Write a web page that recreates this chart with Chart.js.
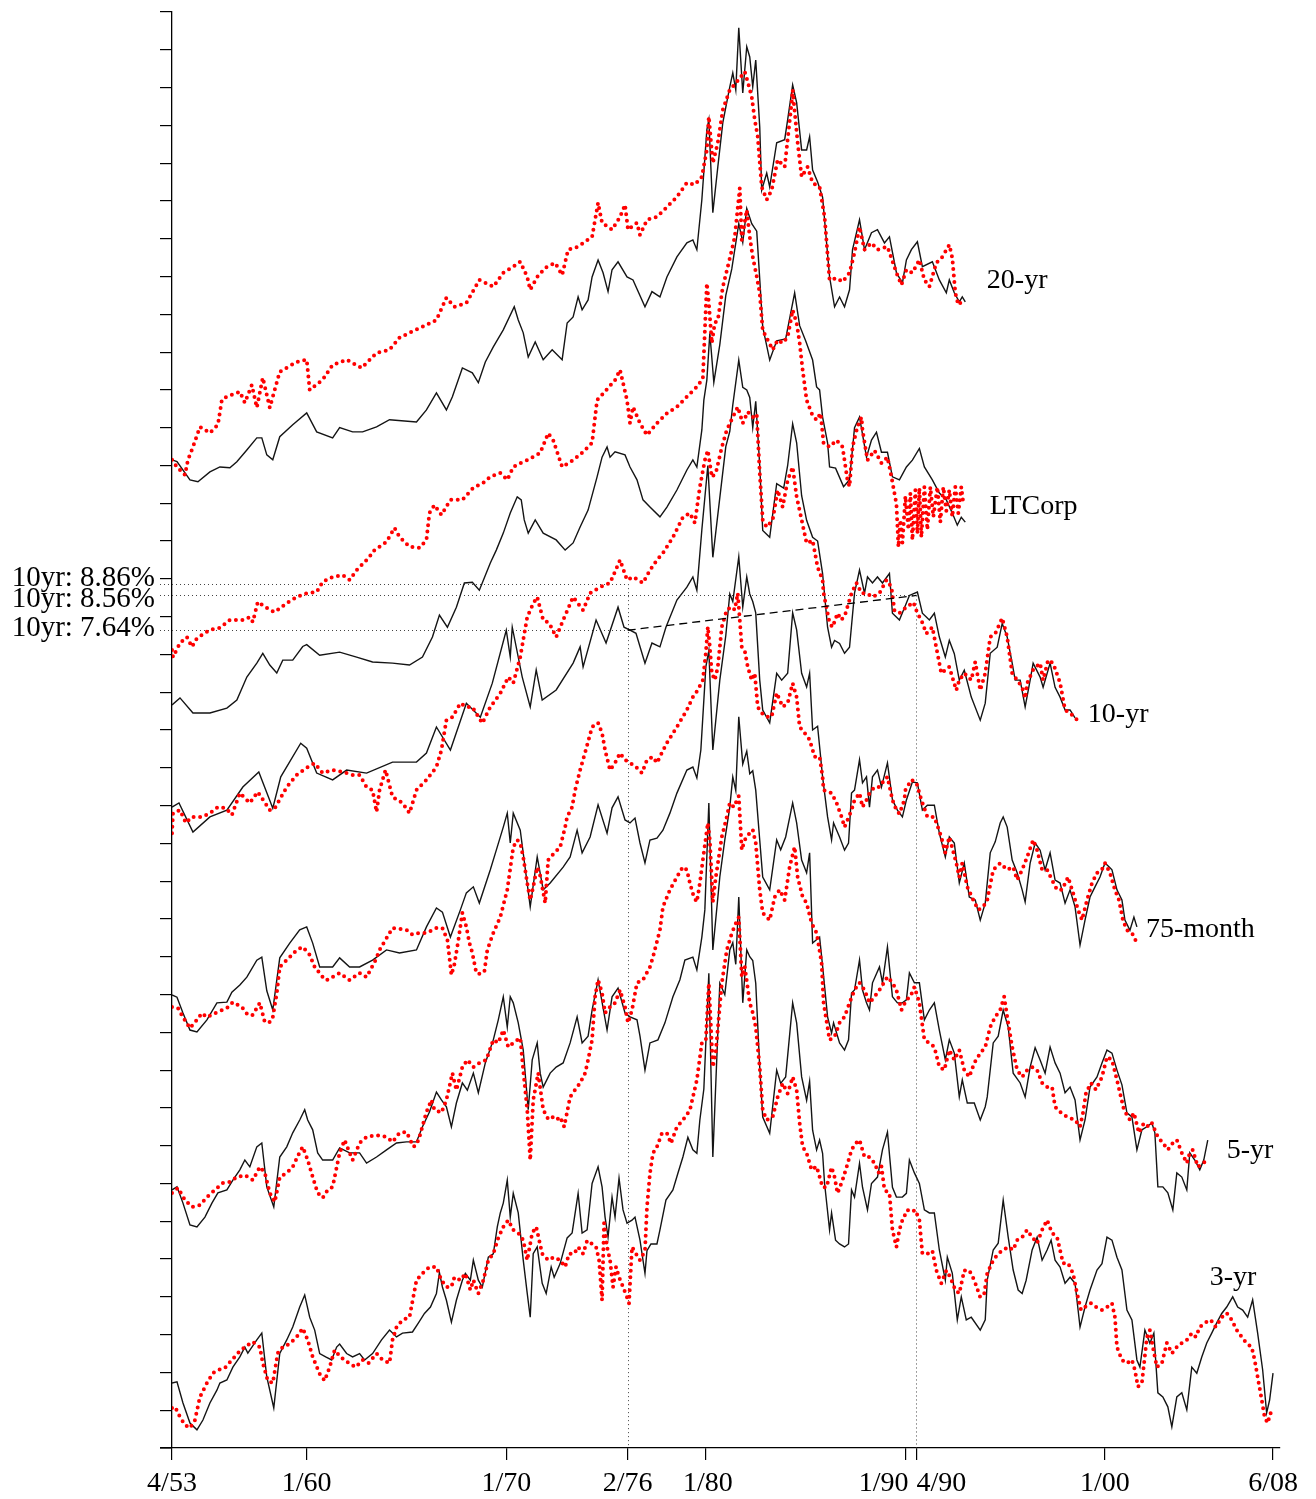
<!DOCTYPE html>
<html><head><meta charset="utf-8">
<script src="https://cdn.jsdelivr.net/npm/chart.js@4.4.1/dist/chart.umd.min.js"></script>
<style>html,body{margin:0;padding:0;background:#fff}#wrap{width:1316px;height:1499px}</style>
</head><body><div id="wrap"><canvas id="c" width="1316" height="1499"></canvas></div>
<script>
// ---- data: [date (decimal year), yield %] ----
const yr20Actual = [[1953.25,3.15],[1953.5,3.10],[1954.15,2.62],[1954.55,2.57],[1955.15,2.83],[1955.65,2.96],[1956.15,2.94],[1956.5,3.10],[1957.0,3.41],[1957.5,3.73],[1957.75,3.73],[1958.0,3.28],[1958.3,3.15],[1958.65,3.76],[1959.3,4.08],[1960.0,4.39],[1960.5,3.89],[1961.3,3.73],[1961.65,4.0],[1962.3,3.89],[1962.8,3.89],[1963.5,4.02],[1964.15,4.21],[1965.5,4.15],[1966.0,4.47],[1966.5,4.92],[1967.0,4.47],[1967.3,4.82],[1967.8,5.58],[1968.3,5.45],[1968.6,5.19],[1968.95,5.74],[1969.35,6.14],[1969.85,6.59],[1970.4,7.2],[1970.6,6.85],[1970.85,6.51],[1971.1,5.87],[1971.45,6.27],[1971.85,5.8],[1972.3,6.06],[1972.8,5.8],[1973.05,6.77],[1973.35,6.93],[1973.6,7.46],[1973.8,7.12],[1974.1,7.38],[1974.3,7.99],[1974.6,8.44],[1974.85,8.1],[1975.1,7.6],[1975.3,8.18],[1975.6,8.39],[1976.05,7.99],[1976.35,7.91],[1976.95,7.2],[1977.3,7.6],[1977.7,7.46],[1978.05,7.99],[1978.55,8.52],[1979.05,8.89],[1979.35,8.97],[1979.55,8.71],[1979.8,10.03],[1980.05,11.88],[1980.15,12.15],[1980.35,9.69],[1980.6,10.9],[1980.85,12.07],[1981.2,13.02],[1981.35,13.39],[1981.5,12.94],[1981.65,14.58],[1981.85,12.86],[1982.05,14.08],[1982.2,13.81],[1982.35,13.02],[1982.5,13.73],[1982.7,11.96],[1982.8,10.29],[1983.05,10.74],[1983.2,10.37],[1983.55,11.54],[1983.95,11.62],[1984.1,12.15],[1984.35,13.07],[1984.55,12.6],[1984.8,11.35],[1985.05,11.35],[1985.2,11.7],[1985.35,10.82],[1985.6,10.5],[1985.85,10.1],[1986.2,7.99],[1986.45,7.2],[1986.7,7.46],[1986.95,7.2],[1987.2,7.65],[1987.35,8.71],[1987.7,9.5],[1987.95,8.71],[1988.3,9.16],[1988.6,9.24],[1988.95,8.89],[1989.2,9.05],[1989.55,8.1],[1989.85,7.83],[1990.05,8.44],[1990.3,8.71],[1990.6,8.92],[1990.85,8.26],[1991.35,8.39],[1991.7,7.91],[1992.05,7.57],[1992.2,7.91],[1992.45,7.57],[1992.7,7.33],[1992.85,7.46],[1993.0,7.33]];
const yr20Model = [[1953.25,3.15],[1953.5,2.96],[1953.9,2.75],[1954.05,3.15],[1954.3,3.49],[1954.65,4.02],[1955.15,3.86],[1955.55,4.08],[1955.75,4.74],[1956.0,4.82],[1956.65,4.95],[1956.9,4.66],[1957.25,5.13],[1957.5,4.53],[1957.8,5.32],[1958.15,4.53],[1958.65,5.48],[1959.5,5.74],[1960.0,5.8],[1960.15,5.0],[1960.8,5.27],[1961.3,5.66],[1962.0,5.8],[1962.75,5.58],[1963.5,5.98],[1964.15,6.06],[1964.65,6.38],[1965.15,6.51],[1966.0,6.72],[1966.5,6.85],[1967.0,7.44],[1967.4,7.2],[1968.0,7.3],[1968.65,7.91],[1969.35,7.73],[1969.85,8.1],[1970.35,8.26],[1970.7,8.39],[1971.05,7.99],[1971.2,7.65],[1971.55,7.99],[1971.95,8.23],[1972.45,8.36],[1972.8,8.04],[1973.1,8.71],[1973.6,8.79],[1974.3,9.05],[1974.6,9.95],[1974.8,9.42],[1975.3,9.24],[1975.7,9.58],[1975.95,9.9],[1976.1,9.24],[1976.55,9.42],[1976.7,9.1],[1977.05,9.5],[1977.55,9.58],[1978.05,9.84],[1978.55,10.11],[1979.05,10.48],[1979.45,10.43],[1979.8,10.64],[1980.05,11.35],[1980.15,12.23],[1980.35,11.0],[1980.6,11.54],[1980.85,12.41],[1981.2,12.94],[1981.55,13.15],[1981.95,13.42],[1982.1,13.15],[1982.3,12.75],[1982.45,12.15],[1982.6,11.7],[1982.8,10.37],[1983.05,10.03],[1983.3,10.29],[1983.6,11.09],[1983.95,10.9],[1984.3,12.6],[1984.35,12.94],[1984.6,11.54],[1984.8,10.64],[1985.1,10.9],[1985.35,10.48],[1985.7,10.37],[1985.95,9.58],[1986.2,7.91],[1986.55,7.96],[1986.85,7.86],[1987.2,8.1],[1987.45,8.63],[1987.7,9.31],[1987.95,8.71],[1988.3,8.89],[1988.6,8.71],[1989.1,8.79],[1989.55,8.1],[1989.8,7.78],[1990.05,8.18],[1990.35,8.1],[1990.7,8.44],[1990.95,7.91],[1991.2,7.73],[1991.55,8.36],[1991.85,8.52],[1992.2,8.84],[1992.35,8.49],[1992.5,7.57],[1992.65,7.25],[1992.9,7.38]];
const corpActual = [[1953.25,3.66],[1953.65,3.85],[1954.3,3.45],[1955.15,3.45],[1956.0,3.58],[1956.5,3.79],[1957.0,4.4],[1957.5,4.77],[1957.8,5.03],[1958.15,4.72],[1958.5,4.51],[1958.8,4.85],[1959.3,4.85],[1959.8,5.21],[1960.0,5.26],[1960.65,4.98],[1961.65,5.06],[1962.5,4.93],[1963.3,4.8],[1964.3,4.77],[1965.15,4.72],[1965.8,4.93],[1966.3,5.46],[1966.65,6.04],[1967.05,5.72],[1967.5,6.25],[1967.9,6.89],[1968.3,6.91],[1968.65,6.7],[1969.2,7.42],[1969.5,7.76],[1969.85,8.21],[1970.2,8.74],[1970.55,9.17],[1970.75,9.09],[1970.9,8.56],[1971.1,8.21],[1971.45,8.56],[1971.85,8.21],[1972.5,8.03],[1972.95,7.76],[1973.35,7.95],[1973.7,8.37],[1974.1,8.82],[1974.55,9.7],[1974.8,10.22],[1975.05,10.49],[1975.2,10.22],[1975.45,10.36],[1975.95,10.28],[1976.2,9.96],[1976.55,9.62],[1976.85,9.09],[1977.2,8.9],[1977.7,8.64],[1978.05,8.9],[1978.55,9.35],[1979.05,9.88],[1979.35,10.15],[1979.55,9.96],[1979.8,10.94],[1979.9,11.73],[1980.05,12.26],[1980.2,13.5],[1980.4,12.2],[1980.7,13.2],[1981.0,14.5],[1981.3,15.2],[1981.65,16.4],[1981.85,15.9],[1982.05,16.8],[1982.3,16.4],[1982.55,16.2],[1982.85,13.67],[1983.2,12.79],[1983.55,13.3],[1984.0,13.35],[1984.45,14.57],[1984.7,13.7],[1985.0,13.3],[1985.35,12.79],[1985.55,12.08],[1985.7,12.0],[1985.85,11.28],[1986.1,10.6],[1986.2,9.96],[1986.5,9.93],[1986.9,9.44],[1987.2,9.62],[1987.45,11.0],[1987.7,11.28],[1988.05,10.22],[1988.3,10.67],[1988.55,10.88],[1988.8,10.35],[1989.1,10.35],[1989.35,9.7],[1989.7,9.62],[1990.05,9.96],[1990.35,10.14],[1990.7,10.45],[1990.95,9.96],[1991.35,9.62],[1991.7,9.27],[1992.05,9.09],[1992.35,8.74],[1992.6,8.42],[1992.8,8.63],[1993.0,8.5]];
const corpModel = [[1953.25,5.12],[1953.3,4.93],[1953.65,5.3],[1954.0,5.46],[1954.25,5.2],[1954.5,5.43],[1955.15,5.65],[1955.65,5.7],[1956.15,5.91],[1956.8,5.91],[1957.15,5.99],[1957.3,5.86],[1957.55,6.39],[1958.15,6.18],[1958.4,6.12],[1959.0,6.36],[1959.5,6.52],[1960.0,6.62],[1960.5,6.65],[1960.8,6.92],[1961.3,7.05],[1961.8,7.1],[1962.15,6.97],[1962.5,7.23],[1963.15,7.58],[1963.3,7.72],[1964.0,7.98],[1964.4,8.35],[1964.65,8.11],[1965.15,7.85],[1965.65,7.82],[1966.0,8.03],[1966.15,8.74],[1966.4,8.95],[1966.75,8.69],[1967.2,9.09],[1967.8,9.09],[1968.35,9.41],[1968.85,9.54],[1969.2,9.7],[1969.7,9.8],[1970.05,9.62],[1970.35,9.96],[1970.7,10.06],[1971.05,10.14],[1971.7,10.33],[1972.1,10.85],[1972.35,10.67],[1972.8,9.96],[1973.35,10.14],[1973.85,10.36],[1974.3,10.6],[1974.55,11.73],[1974.85,11.9],[1975.45,12.26],[1975.7,12.53],[1976.05,11.73],[1976.2,11.12],[1976.35,11.55],[1976.7,11.12],[1977.05,10.8],[1977.55,11.12],[1978.05,11.38],[1978.55,11.55],[1979.05,11.82],[1979.55,12.08],[1979.85,12.3],[1980.05,14.82],[1980.15,14.3],[1980.3,13.24],[1980.45,13.77],[1980.6,13.85],[1980.85,14.72],[1981.3,15.7],[1981.45,16.05],[1981.7,17.34],[1981.8,15.97],[1982.05,16.76],[1982.2,16.05],[1982.35,15.52],[1982.55,15.0],[1982.7,14.56],[1982.85,13.58],[1983.1,13.32],[1983.35,13.06],[1983.6,13.32],[1983.85,13.24],[1984.1,13.4],[1984.35,14.11],[1984.55,13.77],[1984.7,13.24],[1984.85,12.53],[1985.05,11.73],[1985.3,11.38],[1985.55,11.2],[1985.75,11.38],[1985.9,10.58],[1986.2,10.49],[1986.55,10.67],[1986.85,10.49],[1987.1,9.6],[1987.2,9.44],[1987.35,10.49],[1987.6,11.03],[1987.8,11.28],[1987.85,10.94],[1988.1,10.14],[1988.45,10.4],[1988.8,10.06],[1989.1,10.22],[1989.3,9.7],[1989.55,8.98],[1989.65,7.84],[1989.75,8.56],[1989.85,7.95],[1990.0,9.19],[1990.15,8.3],[1990.25,9.27],[1990.35,8.03],[1990.5,9.35],[1990.6,8.2],[1990.7,9.4],[1990.8,8.1],[1990.95,9.43],[1991.1,8.3],[1991.25,9.43],[1991.4,8.64],[1991.6,9.43],[1991.75,8.5],[1991.9,9.43],[1992.05,8.8],[1992.2,9.35],[1992.35,8.64],[1992.5,9.43],[1992.65,8.74],[1992.8,9.43],[1992.9,9.0]];
const yr10Actual = [[1953.25,2.96],[1953.6,3.07],[1954.3,2.30],[1955.15,2.70],[1956.0,2.88],[1956.8,3.49],[1957.6,3.89],[1958.3,2.93],[1958.7,3.76],[1959.7,4.65],[1960.0,4.52],[1960.5,3.86],[1961.3,3.68],[1962.0,3.94],[1963.0,3.86],[1964.3,4.15],[1965.5,4.15],[1966.0,4.39],[1966.5,5.08],[1967.2,4.47],[1968.0,5.71],[1968.7,5.34],[1969.3,6.24],[1970.0,7.64],[1970.2,6.93],[1970.3,7.72],[1970.8,6.40],[1971.2,5.61],[1971.5,6.59],[1971.8,5.79],[1972.5,6.06],[1973.35,6.77],[1973.7,7.2],[1973.85,6.67],[1974.5,7.91],[1975.0,7.3],[1975.6,8.25],[1975.9,7.72],[1976.2,7.64],[1976.5,7.56],[1976.95,6.77],[1977.3,7.3],[1977.7,7.2],[1978.0,7.72],[1978.55,8.44],[1979.05,8.78],[1979.35,9.05],[1979.55,8.7],[1979.8,10.3],[1980.1,12.0],[1980.35,9.57],[1980.7,11.15],[1981.0,12.5],[1981.2,12.9],[1981.35,13.6],[1981.65,14.79],[1981.85,14.07],[1982.05,14.0],[1982.2,13.8],[1982.35,13.0],[1982.5,13.7],[1982.7,12.0],[1982.85,10.28],[1983.2,10.1],[1983.55,11.52],[1983.9,11.4],[1984.1,12.0],[1984.35,13.1],[1984.55,12.6],[1984.8,11.2],[1985.05,10.55],[1985.35,10.1],[1985.6,10.0],[1985.85,9.14],[1986.1,7.72],[1986.3,7.19],[1986.45,7.37],[1986.7,7.29],[1986.95,7.03],[1987.2,7.19],[1987.45,8.62],[1987.7,9.23],[1987.95,8.62],[1988.1,9.05],[1988.35,8.89],[1988.6,9.05],[1988.85,8.89],[1989.2,9.14],[1989.35,8.09],[1989.7,7.91],[1990.05,8.36],[1990.2,8.56],[1990.6,8.65],[1990.85,8.09],[1991.2,7.91],[1991.45,8.09],[1991.7,7.46],[1992.0,6.93],[1992.2,7.37],[1992.45,7.02],[1992.7,6.32],[1992.95,6.58],[1993.3,5.87],[1993.75,5.26],[1994.0,5.71],[1994.25,7.03],[1994.6,7.19],[1994.85,7.82],[1995.1,7.46],[1995.35,6.77],[1995.5,6.32],[1995.75,6.32],[1996.0,5.61],[1996.25,6.32],[1996.4,6.77],[1996.75,6.4],[1996.9,6.13],[1997.25,6.77],[1997.5,6.13],[1997.75,5.87],[1998.0,5.53],[1998.25,5.53],[1998.5,5.32]];
const yr10Model = [[1953.25,2.27],[1953.3,2.8],[1953.65,2.88],[1953.95,2.54],[1954.25,2.7],[1954.75,2.7],[1955.15,2.8],[1955.55,2.96],[1955.95,2.93],[1956.25,2.75],[1956.65,3.33],[1957.15,3.07],[1957.55,3.36],[1958.15,2.88],[1958.4,2.93],[1959.0,3.49],[1959.5,3.81],[1960.0,4.0],[1960.4,4.12],[1960.8,3.86],[1961.3,3.94],[1961.8,3.89],[1962.3,3.81],[1962.65,3.81],[1963.0,3.49],[1963.3,3.41],[1963.5,2.83],[1963.65,3.41],[1963.95,3.94],[1964.3,3.23],[1964.8,3.07],[1965.15,2.8],[1965.5,3.41],[1966.0,3.68],[1966.5,4.02],[1966.75,4.47],[1967.0,5.26],[1967.3,5.34],[1967.7,5.71],[1968.0,5.61],[1968.3,5.61],[1968.8,5.18],[1969.2,5.61],[1969.7,5.97],[1970.1,6.4],[1970.35,6.24],[1970.7,6.93],[1971.05,7.99],[1971.35,8.35],[1971.55,8.52],[1971.85,7.91],[1972.15,7.83],[1972.5,7.46],[1972.85,7.91],[1973.35,8.52],[1973.85,8.17],[1974.2,8.62],[1974.7,8.78],[1975.2,8.89],[1975.7,9.5],[1976.05,8.97],[1976.35,9.05],[1976.85,8.89],[1977.2,9.23],[1977.55,9.5],[1977.85,9.68],[1978.35,10.1],[1978.85,10.63],[1979.2,10.74],[1979.45,10.48],[1979.7,11.43],[1979.95,12.14],[1980.1,12.4],[1980.3,11.69],[1980.5,11.8],[1980.8,12.48],[1981.05,12.94],[1981.35,13.28],[1981.6,13.55],[1981.85,13.12],[1982.1,13.42],[1982.35,13.28],[1982.55,13.36],[1982.7,11.8],[1982.85,10.56],[1983.05,10.37],[1983.35,10.56],[1983.6,11.35],[1983.85,10.9],[1984.1,11.61],[1984.35,11.96],[1984.55,11.17],[1984.8,10.56],[1985.05,9.94],[1985.35,10.02],[1985.6,9.31],[1985.85,8.97],[1985.9,8.62],[1986.2,7.83],[1986.35,7.72],[1986.6,8.09],[1986.8,7.91],[1987.0,8.09],[1987.3,8.62],[1987.55,8.89],[1987.8,8.62],[1988.05,8.62],[1988.35,8.52],[1988.7,8.62],[1989.05,8.97],[1989.3,8.78],[1989.45,8.17],[1989.7,8.09],[1990.05,8.25],[1990.4,8.38],[1990.6,8.09],[1990.8,7.91],[1991.05,7.55],[1991.35,7.72],[1991.8,6.5],[1992.2,6.67],[1992.55,6.05],[1992.7,6.32],[1992.95,6.5],[1993.3,6.32],[1993.5,6.8],[1993.75,6.05],[1994.0,6.5],[1994.25,7.46],[1994.5,7.55],[1994.85,7.96],[1995.1,7.46],[1995.35,6.5],[1995.6,6.32],[1995.85,6.13],[1996.0,5.84],[1996.1,6.24],[1996.4,6.59],[1996.75,6.77],[1996.9,6.32],[1997.15,6.85],[1997.4,6.77],[1997.75,6.25],[1998.0,5.53],[1998.25,5.45],[1998.6,5.27]];
const m75Actual = [[1953.25,2.49],[1953.5,2.43],[1953.8,2.01],[1954.15,1.56],[1954.5,1.51],[1955.0,1.83],[1955.5,2.28],[1956.0,2.3],[1956.25,2.56],[1956.65,2.75],[1957.0,2.96],[1957.5,3.41],[1957.75,3.49],[1958.0,2.6],[1958.3,2.09],[1958.65,3.47],[1959.15,3.86],[1959.65,4.21],[1960.0,4.29],[1960.3,3.86],[1960.65,3.23],[1961.3,3.23],[1961.65,3.47],[1962.15,3.23],[1962.65,3.23],[1963.3,3.41],[1964.0,3.68],[1964.65,3.6],[1965.5,3.68],[1966.0,4.29],[1966.5,4.79],[1966.8,4.68],[1967.2,4.02],[1967.7,4.74],[1968.0,5.19],[1968.35,5.35],[1968.65,4.92],[1969.2,5.8],[1969.5,6.32],[1969.85,6.93],[1970.05,7.3],[1970.2,6.51],[1970.35,7.3],[1970.7,6.85],[1971.2,4.82],[1971.55,6.14],[1971.85,5.27],[1972.2,5.45],[1972.85,5.87],[1973.2,6.14],[1973.55,6.85],[1973.8,6.25],[1974.2,6.67],[1974.6,7.52],[1975.05,6.77],[1975.3,7.44],[1975.6,7.73],[1975.95,7.12],[1976.2,7.04],[1976.45,7.17],[1976.7,6.51],[1976.95,5.98],[1977.2,6.59],[1977.55,6.64],[1977.85,6.85],[1978.2,7.3],[1978.55,7.83],[1979.05,8.44],[1979.35,8.52],[1979.55,8.23],[1979.75,8.97],[1980.0,11.17],[1980.15,11.6],[1980.35,8.97],[1980.7,10.82],[1981.0,12.0],[1981.2,13.1],[1981.35,12.9],[1981.65,14.08],[1981.85,12.75],[1982.05,13.55],[1982.2,13.1],[1982.35,12.9],[1982.5,12.6],[1982.7,10.82],[1982.85,10.03],[1983.2,9.69],[1983.55,11.0],[1983.8,10.82],[1984.1,11.0],[1984.35,12.6],[1984.55,12.15],[1984.8,11.0],[1985.05,10.64],[1985.2,11.0],[1985.35,9.5],[1985.6,9.6],[1985.85,8.26],[1986.1,7.2],[1986.3,6.59],[1986.4,7.04],[1986.7,6.67],[1986.95,6.32],[1987.15,6.51],[1987.3,7.83],[1987.45,7.91],[1987.7,8.71],[1987.85,8.1],[1988.05,8.26],[1988.2,7.46],[1988.35,8.26],[1988.6,8.44],[1988.8,7.99],[1989.1,8.63],[1989.35,7.65],[1989.6,7.38],[1989.85,7.2],[1990.05,7.65],[1990.35,8.12],[1990.6,8.1],[1990.85,7.38],[1991.1,7.51],[1991.45,7.51],[1991.7,6.77],[1992.0,6.14],[1992.2,6.67],[1992.45,6.51],[1992.7,5.45],[1992.95,5.98],[1993.2,5.08],[1993.5,5.0],[1993.75,4.47],[1994.0,4.92],[1994.25,6.25],[1994.5,6.54],[1994.75,7.04],[1994.9,7.2],[1995.1,6.93],[1995.35,6.06],[1995.6,5.72],[1995.85,5.27],[1996.0,4.95],[1996.25,5.98],[1996.5,6.51],[1996.75,6.32],[1997.0,5.8],[1997.25,6.25],[1997.5,5.53],[1997.75,5.45],[1998.0,4.92],[1998.25,5.27],[1998.5,4.82],[1998.75,3.81],[1999.0,4.47],[1999.25,5.08],[1999.5,5.35],[1999.75,5.61],[2000.0,5.98],[2000.2,5.88],[2000.35,5.8],[2000.6,5.27],[2000.85,5.0],[2001.0,4.47],[2001.25,4.2],[2001.45,4.55],[2001.6,4.29]];
const m75Model = [[1953.25,2.17],[1953.55,2.14],[1953.8,1.9],[1954.15,1.61],[1954.5,1.83],[1954.75,2.01],[1955.0,1.9],[1955.5,2.03],[1956.0,2.14],[1956.3,2.30],[1956.75,2.17],[1957.05,1.96],[1957.3,1.96],[1957.65,2.28],[1957.9,1.77],[1958.15,1.77],[1958.3,1.90],[1958.5,2.54],[1958.65,3.23],[1959.15,3.49],[1959.5,3.68],[1959.8,3.76],[1960.15,3.55],[1960.4,3.23],[1960.9,2.9],[1961.0,2.88],[1961.65,3.07],[1962.15,2.88],[1962.65,3.07],[1963.0,2.96],[1963.45,3.41],[1963.65,3.68],[1964.3,4.26],[1965.0,4.21],[1965.3,4.08],[1965.65,4.13],[1966.0,4.13],[1966.5,4.26],[1966.8,4.26],[1967.05,3.95],[1967.25,3.02],[1967.4,3.3],[1967.6,3.94],[1967.8,4.66],[1968.0,4.29],[1968.15,3.87],[1968.3,3.6],[1968.5,3.07],[1968.65,3.05],[1968.9,3.1],[1969.05,3.68],[1969.35,4.13],[1969.7,4.55],[1970.05,5.27],[1970.35,6.4],[1970.55,6.59],[1970.7,6.51],[1970.85,6.14],[1971.05,5.45],[1971.2,5.0],[1971.35,5.35],[1971.55,5.87],[1971.7,5.64],[1971.95,4.92],[1972.1,6.06],[1972.4,6.24],[1972.7,6.4],[1972.95,6.93],[1973.05,7.2],[1973.3,7.46],[1973.45,7.91],[1973.7,8.44],[1974.0,9.0],[1974.3,9.58],[1974.6,9.69],[1974.8,9.42],[1974.95,8.97],[1975.2,8.44],[1975.45,8.63],[1975.7,8.89],[1975.95,8.71],[1976.2,8.63],[1976.5,8.52],[1976.8,8.36],[1977.05,8.71],[1977.35,8.79],[1977.55,8.63],[1977.8,8.9],[1978.05,9.16],[1978.55,9.58],[1979.05,10.03],[1979.35,10.37],[1979.6,10.56],[1979.85,10.82],[1980.0,11.54],[1980.1,12.23],[1980.2,11.7],[1980.3,11.0],[1980.45,10.82],[1980.6,11.17],[1980.8,12.23],[1981.05,12.68],[1981.3,12.76],[1981.45,12.68],[1981.6,13.12],[1981.8,11.7],[1981.95,11.6],[1982.1,11.17],[1982.3,10.82],[1982.45,11.0],[1982.6,10.11],[1982.8,9.95],[1983.05,9.85],[1983.3,9.85],[1983.55,10.48],[1983.85,10.11],[1984.1,10.21],[1984.35,10.74],[1984.55,10.37],[1984.7,9.58],[1984.95,9.42],[1985.2,9.24],[1985.45,8.79],[1985.7,8.79],[1985.85,8.26],[1985.9,7.91],[1986.3,7.83],[1986.55,7.57],[1986.8,7.2],[1986.95,6.93],[1987.1,7.12],[1987.3,7.38],[1987.45,7.65],[1987.7,7.83],[1987.85,7.46],[1988.05,7.65],[1988.2,7.83],[1988.45,7.99],[1988.7,7.99],[1988.95,8.18],[1989.1,8.26],[1989.35,7.65],[1989.55,7.38],[1989.7,7.28],[1989.95,7.65],[1990.0,7.91],[1990.3,8.18],[1990.55,8.1],[1990.8,7.65],[1991.1,7.2],[1991.45,7.2],[1991.8,6.67],[1992.0,6.25],[1992.2,6.67],[1992.55,5.98],[1992.7,5.61],[1992.85,5.98],[1993.1,5.35],[1993.4,5.0],[1993.65,4.74],[1993.9,4.82],[1994.1,5.0],[1994.4,5.8],[1994.75,5.98],[1995.1,5.8],[1995.4,5.87],[1995.6,5.53],[1995.85,5.8],[1996.1,6.14],[1996.4,6.59],[1996.6,6.32],[1996.85,5.8],[1997.1,5.8],[1997.35,5.53],[1997.6,5.27],[1997.85,5.27],[1998.15,5.61],[1998.4,5.19],[1998.65,4.74],[1998.85,4.47],[1999.1,5.0],[1999.35,5.45],[1999.6,5.72],[1999.84,5.8],[2000.0,5.98],[2000.25,5.72],[2000.5,5.27],[2000.7,5.0],[2000.9,4.47],[2001.1,4.2],[2001.35,4.13],[2001.6,3.86]];
const yr5Actual = [[1953.25,2.33],[1953.5,2.41],[1953.8,1.98],[1954.15,1.4],[1954.5,1.35],[1954.9,1.61],[1955.25,1.98],[1955.55,2.25],[1956.0,2.33],[1956.3,2.59],[1956.65,2.86],[1956.9,3.12],[1957.15,2.94],[1957.5,3.47],[1957.75,3.57],[1958.0,2.41],[1958.35,1.88],[1958.65,3.2],[1959.0,3.47],[1959.3,3.84],[1959.65,4.18],[1959.9,4.45],[1960.05,4.18],[1960.3,3.92],[1960.55,3.31],[1960.8,3.12],[1961.3,3.12],[1961.65,3.44],[1962.15,3.31],[1962.65,3.31],[1963.0,3.04],[1963.5,3.2],[1964.0,3.39],[1964.5,3.57],[1965.0,3.6],[1965.5,3.6],[1965.8,4.0],[1966.15,4.39],[1966.5,4.92],[1966.75,4.71],[1967.0,4.53],[1967.25,4.0],[1967.5,4.63],[1967.8,5.16],[1968.05,4.97],[1968.35,5.42],[1968.6,4.9],[1968.95,5.69],[1969.35,6.3],[1969.6,6.83],[1969.85,7.44],[1970.05,6.64],[1970.2,7.44],[1970.35,7.28],[1970.6,6.75],[1970.85,6.03],[1971.1,4.45],[1971.3,5.77],[1971.55,6.22],[1971.7,5.42],[1971.85,5.05],[1972.2,5.42],[1972.5,5.58],[1972.85,5.69],[1973.2,6.22],[1973.55,6.91],[1973.8,6.22],[1974.1,6.4],[1974.3,7.09],[1974.6,7.89],[1975.05,6.56],[1975.3,7.44],[1975.6,7.67],[1975.95,7.01],[1976.2,6.91],[1976.55,6.83],[1976.7,6.4],[1976.95,5.5],[1977.2,6.22],[1977.6,6.3],[1977.95,6.75],[1978.35,7.44],[1978.7,7.89],[1978.95,8.41],[1979.35,8.49],[1979.55,8.15],[1979.8,9.02],[1979.95,9.74],[1980.15,12.57],[1980.35,8.68],[1980.7,10.61],[1980.95,11.59],[1981.2,12.46],[1981.35,13.26],[1981.5,12.9],[1981.65,14.85],[1981.85,13.6],[1982.05,13.94],[1982.2,13.34],[1982.35,13.42],[1982.5,12.91],[1982.7,11.59],[1982.85,10.61],[1983.2,10.27],[1983.55,11.59],[1983.75,11.33],[1984.0,11.67],[1984.35,12.57],[1984.55,12.04],[1984.8,11.06],[1985.05,10.72],[1985.2,11.25],[1985.35,8.86],[1985.7,9.02],[1985.85,8.26],[1986.1,6.91],[1986.3,6.48],[1986.4,6.75],[1986.7,6.22],[1986.95,6.03],[1987.15,6.3],[1987.3,7.54],[1987.45,7.62],[1987.7,8.41],[1987.85,7.62],[1988.05,7.28],[1988.2,7.09],[1988.35,7.81],[1988.7,8.23],[1988.85,7.81],[1989.1,8.76],[1989.35,7.44],[1989.6,7.28],[1989.85,7.28],[1990.05,7.36],[1990.2,8.07],[1990.45,7.81],[1990.7,7.81],[1990.95,6.83],[1991.2,7.09],[1991.45,7.28],[1991.7,6.56],[1992.0,5.77],[1992.2,6.3],[1992.45,5.95],[1992.7,4.79],[1992.85,5.24],[1993.1,4.63],[1993.45,4.63],[1993.75,4.18],[1994.0,4.53],[1994.1,4.79],[1994.4,6.22],[1994.65,6.4],[1994.9,7.09],[1995.15,6.64],[1995.4,5.42],[1995.75,5.16],[1996.0,4.79],[1996.25,5.58],[1996.5,6.09],[1996.75,5.77],[1997.0,5.42],[1997.25,6.11],[1997.5,5.69],[1997.75,5.42],[1998.0,4.9],[1998.25,5.05],[1998.5,4.71],[1998.75,3.65],[1999.0,4.18],[1999.25,5.05],[1999.6,5.32],[1999.85,5.69],[2000.1,6.03],[2000.35,5.95],[2000.6,5.5],[2000.85,5.11],[2001.1,4.37],[2001.35,4.26],[2001.6,3.39],[2001.85,3.92],[2002.1,4.0],[2002.35,4.1],[2002.5,3.84],[2002.65,2.41],[2002.9,2.41],[2003.15,2.25],[2003.4,1.8],[2003.6,2.78],[2003.85,2.67],[2004.1,2.33],[2004.25,3.31],[2004.5,3.12],[2004.75,2.86],[2004.95,3.12],[2005.15,3.65]];
const yr5Model = [[1953.25,2.25],[1953.55,2.38],[1953.9,2.06],[1954.25,1.88],[1954.65,1.93],[1955.0,2.14],[1955.4,2.33],[1955.8,2.51],[1956.15,2.54],[1956.5,2.67],[1956.9,2.72],[1957.3,2.59],[1957.65,2.94],[1957.9,2.78],[1958.15,2.25],[1958.4,2.01],[1958.65,2.67],[1959.0,2.78],[1959.3,2.94],[1959.65,3.33],[1959.8,3.47],[1960.05,3.12],[1960.3,2.67],[1960.55,2.25],[1960.8,2.12],[1961.05,2.33],[1961.3,2.41],[1961.65,3.31],[1961.9,3.65],[1962.15,3.31],[1962.3,3.12],[1962.65,3.57],[1963.0,3.73],[1963.5,3.78],[1964.0,3.73],[1964.3,3.6],[1964.65,3.84],[1965.0,3.86],[1965.35,3.47],[1965.5,3.52],[1965.65,3.73],[1966.0,4.39],[1966.25,4.71],[1966.4,4.45],[1966.75,4.37],[1967.0,4.71],[1967.3,5.42],[1967.5,4.97],[1967.8,5.58],[1968.05,5.77],[1968.35,5.58],[1968.65,5.69],[1969.0,5.77],[1969.35,6.3],[1969.6,6.22],[1969.85,6.56],[1970.1,6.11],[1970.35,6.22],[1970.7,6.35],[1970.85,5.5],[1971.05,4.45],[1971.2,3.12],[1971.35,4.71],[1971.6,5.42],[1971.85,4.45],[1972.1,4.2],[1972.3,4.26],[1972.5,4.18],[1972.7,4.26],[1972.9,4.0],[1973.2,4.79],[1973.45,4.98],[1973.7,5.16],[1973.95,5.42],[1974.1,5.77],[1974.3,6.3],[1974.45,7.44],[1974.6,7.89],[1974.8,7.54],[1974.95,7.01],[1975.2,7.17],[1975.45,7.28],[1975.7,7.62],[1975.95,7.17],[1976.1,6.75],[1976.3,7.09],[1976.55,7.81],[1976.85,7.89],[1977.2,8.23],[1977.35,8.49],[1977.7,9.21],[1977.85,9.82],[1978.2,10.27],[1978.55,10.61],[1978.85,10.88],[1979.05,10.8],[1979.2,10.45],[1979.4,10.08],[1979.55,9.95],[1979.7,10.45],[1979.85,11.06],[1980.1,12.04],[1980.2,11.59],[1980.35,9.95],[1980.5,10.61],[1980.8,11.67],[1981.05,12.2],[1981.2,12.57],[1981.4,12.46],[1981.65,12.75],[1981.8,11.33],[1981.95,11.59],[1982.2,11.78],[1982.35,11.86],[1982.5,11.51],[1982.7,10.27],[1982.85,9.66],[1983.2,9.47],[1983.45,10.08],[1983.7,10.27],[1983.95,10.0],[1984.2,10.88],[1984.45,11.41],[1984.6,10.61],[1984.85,10.08],[1985.05,9.92],[1985.3,9.39],[1985.55,9.13],[1985.8,8.34],[1985.9,7.28],[1986.2,6.3],[1986.45,6.38],[1986.7,6.75],[1986.95,6.91],[1987.2,7.28],[1987.45,7.62],[1987.7,7.81],[1987.95,7.62],[1988.2,7.28],[1988.45,7.44],[1988.7,7.62],[1989.1,7.97],[1989.35,7.81],[1989.55,7.62],[1989.8,7.09],[1990.05,7.36],[1990.25,7.44],[1990.45,7.7],[1990.7,7.28],[1990.95,6.3],[1991.2,6.22],[1991.45,6.11],[1991.7,5.58],[1991.95,5.5],[1992.2,6.03],[1992.45,5.77],[1992.7,6.03],[1992.95,5.5],[1993.2,5.32],[1993.45,5.69],[1993.75,5.95],[1994.0,6.11],[1994.25,6.64],[1994.5,6.91],[1994.75,7.09],[1994.95,7.44],[1995.1,6.91],[1995.35,6.11],[1995.6,5.5],[1995.85,5.32],[1996.1,5.5],[1996.35,5.58],[1996.6,5.5],[1996.85,5.16],[1997.1,5.05],[1997.35,5.05],[1997.5,4.53],[1997.8,4.37],[1998.1,4.26],[1998.5,4.18],[1998.75,4.0],[1998.9,4.37],[1999.05,4.9],[1999.3,5.16],[1999.55,4.98],[1999.85,5.32],[2000.1,5.85],[2000.35,5.77],[2000.6,5.24],[2000.75,4.9],[2000.95,4.45],[2001.25,4.18],[2001.45,4.37],[2001.7,3.84],[2001.95,4.1],[2002.2,4.0],[2002.35,4.1],[2002.65,3.73],[2002.9,3.57],[2003.15,3.39],[2003.4,3.57],[2003.6,3.65],[2003.85,3.31],[2004.1,3.04],[2004.25,3.31],[2004.4,3.39],[2004.65,2.94],[2004.9,3.04],[2005.15,3.12]];
const yr3Actual = [[1953.25,2.22],[1953.5,2.25],[1953.8,1.69],[1954.15,1.16],[1954.5,0.98],[1954.8,1.24],[1955.15,1.69],[1955.5,2.03],[1955.65,2.22],[1956.0,2.3],[1956.3,2.64],[1956.65,2.91],[1956.9,3.17],[1957.05,3.01],[1957.5,3.36],[1957.75,3.54],[1958.0,2.38],[1958.35,1.56],[1958.65,3.0],[1959.0,3.36],[1959.3,3.7],[1959.65,4.23],[1959.9,4.55],[1960.15,3.96],[1960.4,3.62],[1960.65,3.0],[1960.95,2.91],[1961.25,2.83],[1961.5,3.17],[1961.65,3.25],[1962.0,3.0],[1962.3,2.91],[1962.65,3.0],[1962.9,2.83],[1963.3,3.0],[1963.75,3.36],[1964.15,3.62],[1964.5,3.44],[1964.8,3.54],[1965.3,3.57],[1965.6,3.81],[1965.9,4.06],[1966.2,4.23],[1966.5,4.59],[1966.65,5.14],[1966.8,4.76],[1967.0,4.41],[1967.25,3.83],[1967.5,4.41],[1967.8,4.94],[1967.95,5.12],[1968.2,4.94],[1968.35,5.47],[1968.6,4.94],[1968.8,4.76],[1969.1,5.55],[1969.35,5.64],[1969.55,6.35],[1969.7,6.72],[1969.85,6.98],[1970.05,7.59],[1970.2,6.61],[1970.35,7.24],[1970.6,6.72],[1970.85,5.47],[1971.05,4.59],[1971.2,3.96],[1971.35,5.64],[1971.55,5.82],[1971.8,4.86],[1972.0,4.59],[1972.25,5.29],[1972.4,5.02],[1972.7,5.38],[1973.05,6.06],[1973.3,6.19],[1973.6,7.24],[1973.8,6.19],[1974.05,6.27],[1974.3,7.5],[1974.6,7.94],[1974.8,7.41],[1974.95,6.61],[1975.1,6.08],[1975.3,7.14],[1975.45,6.61],[1975.65,7.64],[1975.85,6.8],[1976.05,6.45],[1976.3,6.53],[1976.45,6.61],[1976.7,6.0],[1976.95,5.12],[1977.05,5.72],[1977.25,5.9],[1977.55,5.9],[1977.7,6.27],[1978.0,7.06],[1978.35,7.33],[1978.6,7.77],[1978.85,8.2],[1979.1,8.72],[1979.35,8.39],[1979.55,8.3],[1979.7,9.18],[1979.9,10.0],[1980.15,13.06],[1980.35,8.2],[1980.7,12.8],[1980.95,12.5],[1981.2,13.68],[1981.35,13.87],[1981.5,13.3],[1981.65,15.08],[1981.85,12.28],[1982.05,13.68],[1982.2,13.5],[1982.35,13.4],[1982.5,12.8],[1982.7,10.58],[1982.85,9.26],[1983.2,8.83],[1983.55,10.5],[1983.75,10.15],[1984.0,10.32],[1984.35,12.28],[1984.55,11.75],[1984.8,10.32],[1985.05,9.7],[1985.2,10.2],[1985.35,8.91],[1985.55,8.39],[1985.7,8.65],[1985.85,8.3],[1985.95,7.5],[1986.2,6.27],[1986.3,6.72],[1986.5,6.0],[1986.7,5.9],[1986.95,5.82],[1987.15,5.9],[1987.3,7.33],[1987.45,7.14],[1987.7,8.03],[1987.85,7.4],[1988.1,6.8],[1988.3,7.5],[1988.6,7.67],[1988.85,8.39],[1989.1,8.86],[1989.35,7.4],[1989.55,7.14],[1989.85,7.14],[1990.05,7.24],[1990.2,8.12],[1990.45,7.78],[1990.7,7.5],[1990.95,6.8],[1991.2,6.72],[1991.45,6.72],[1991.7,5.74],[1992.0,4.94],[1992.1,5.55],[1992.35,5.12],[1992.6,3.89],[1992.8,4.5],[1993.05,3.89],[1993.3,3.96],[1993.75,3.62],[1994.0,3.89],[1994.1,4.94],[1994.4,5.74],[1994.65,5.92],[1994.9,7.06],[1995.15,6.08],[1995.4,5.21],[1995.65,4.68],[1995.85,4.59],[1996.05,4.94],[1996.35,5.74],[1996.6,6.08],[1996.85,5.47],[1997.1,5.74],[1997.3,6.0],[1997.5,5.47],[1997.75,5.29],[1998.0,4.86],[1998.25,5.02],[1998.5,4.86],[1998.75,3.7],[1999.0,4.23],[1999.25,4.68],[1999.6,5.21],[1999.85,5.38],[2000.1,6.08],[2000.35,6.0],[2000.6,5.55],[2000.85,5.21],[2001.1,4.15],[2001.35,3.89],[2001.6,2.83],[2001.75,2.64],[2002.0,3.62],[2002.25,3.27],[2002.45,3.54],[2002.65,1.96],[2002.9,1.85],[2003.15,1.59],[2003.35,1.06],[2003.6,1.85],[2003.85,1.96],[2004.1,1.51],[2004.35,2.64],[2004.6,2.48],[2004.85,2.91],[2005.1,3.28],[2005.35,3.54],[2005.6,3.81],[2005.85,4.06],[2006.1,4.23],[2006.4,4.5],[2006.65,4.23],[2006.9,4.15],[2007.15,3.96],[2007.4,4.42],[2007.65,3.54],[2007.9,2.57],[2008.1,1.43],[2008.25,1.77],[2008.42,2.48]];
const yr3Model = [[1953.25,1.56],[1953.4,1.59],[1953.65,1.32],[1953.9,1.11],[1954.15,1.03],[1954.4,1.24],[1954.65,1.85],[1955.0,2.22],[1955.3,2.48],[1955.55,2.56],[1955.9,2.62],[1956.25,2.83],[1956.55,3.01],[1956.9,3.17],[1957.3,3.31],[1957.65,3.17],[1957.8,2.75],[1958.05,2.28],[1958.3,2.22],[1958.55,3.01],[1958.8,3.17],[1959.15,3.26],[1959.5,3.44],[1959.8,3.67],[1960.05,3.36],[1960.3,2.91],[1960.65,2.46],[1960.9,2.28],[1961.15,2.64],[1961.4,3.09],[1961.7,2.91],[1962.1,2.75],[1962.45,2.64],[1962.8,2.83],[1963.1,2.75],[1963.5,3.0],[1963.8,2.83],[1964.15,2.75],[1964.3,3.36],[1964.5,3.7],[1964.8,3.89],[1965.15,3.96],[1965.5,4.94],[1965.8,5.12],[1966.15,5.29],[1966.5,5.29],[1966.75,4.94],[1967.0,4.76],[1967.25,4.76],[1967.4,5.02],[1967.7,4.94],[1967.95,5.12],[1968.2,4.68],[1968.35,4.94],[1968.6,4.59],[1968.85,4.94],[1969.1,5.47],[1969.35,5.64],[1969.6,6.06],[1969.85,6.35],[1970.1,6.53],[1970.35,6.27],[1970.6,6.19],[1970.85,6.0],[1971.05,5.47],[1971.3,6.19],[1971.5,6.35],[1971.8,5.64],[1972.1,5.47],[1972.4,5.55],[1972.7,5.47],[1972.95,5.29],[1973.15,5.64],[1973.4,5.64],[1973.6,5.82],[1973.85,5.64],[1974.05,5.99],[1974.3,5.9],[1974.5,5.82],[1974.65,5.47],[1974.8,4.41],[1974.9,6.45],[1975.05,5.82],[1975.2,5.47],[1975.35,4.76],[1975.5,5.29],[1975.65,5.02],[1975.85,4.76],[1976.05,4.49],[1976.15,4.33],[1976.3,5.82],[1976.5,5.64],[1976.7,5.47],[1976.95,5.72],[1977.05,6.87],[1977.2,7.77],[1977.35,8.3],[1977.55,8.47],[1977.8,8.83],[1978.05,8.83],[1978.25,8.56],[1978.55,9.0],[1978.85,9.18],[1979.2,9.44],[1979.55,10.24],[1979.8,11.22],[1980.0,11.3],[1980.15,12.8],[1980.35,10.58],[1980.5,11.0],[1980.8,12.8],[1981.05,13.68],[1981.3,14.12],[1981.5,14.38],[1981.65,14.55],[1981.8,12.97],[1981.95,13.24],[1982.2,12.28],[1982.35,12.02],[1982.5,11.64],[1982.7,10.58],[1982.85,9.44],[1983.05,9.18],[1983.35,9.26],[1983.6,9.79],[1983.85,10.15],[1984.1,9.88],[1984.35,10.32],[1984.55,9.97],[1984.7,9.1],[1984.85,8.47],[1985.05,8.3],[1985.3,7.86],[1985.55,7.95],[1985.85,7.4],[1986.05,7.4],[1986.3,7.93],[1986.45,7.67],[1986.6,7.24],[1986.85,7.59],[1987.05,7.93],[1987.3,8.39],[1987.5,8.56],[1987.7,8.65],[1987.95,8.2],[1988.2,8.2],[1988.45,8.04],[1988.65,7.78],[1988.8,7.95],[1988.95,7.33],[1989.2,7.24],[1989.35,6.27],[1989.55,5.82],[1989.7,6.27],[1989.85,6.53],[1990.1,6.8],[1990.3,6.75],[1990.5,6.8],[1990.7,6.53],[1990.85,5.64],[1991.1,5.64],[1991.35,5.72],[1991.55,5.2],[1991.8,4.86],[1992.05,5.2],[1992.25,5.02],[1992.5,4.68],[1992.7,4.59],[1992.95,5.2],[1993.2,5.2],[1993.45,4.94],[1993.75,4.49],[1993.95,4.59],[1994.1,5.12],[1994.4,5.47],[1994.65,5.64],[1994.9,5.74],[1995.15,5.82],[1995.4,5.74],[1995.6,6.0],[1995.85,6.08],[1996.1,6.27],[1996.35,6.08],[1996.6,5.92],[1996.85,6.27],[1997.1,6.53],[1997.35,6.19],[1997.6,6.08],[1997.9,5.39],[1998.15,5.39],[1998.4,5.12],[1998.6,4.59],[1998.8,4.15],[1999.0,4.23],[1999.3,4.33],[1999.55,4.23],[1999.85,4.15],[2000.1,4.23],[2000.35,4.33],[2000.5,3.96],[2000.6,3.17],[2000.85,2.83],[2001.1,2.74],[2001.35,2.83],[2001.5,2.56],[2001.65,2.12],[2001.85,2.22],[2002.1,3.43],[2002.25,3.62],[2002.4,3.17],[2002.6,2.64],[2002.85,2.74],[2003.1,3.28],[2003.35,3.0],[2003.6,3.17],[2003.85,3.28],[2004.1,3.36],[2004.35,3.54],[2004.55,3.44],[2004.75,3.7],[2005.0,3.81],[2005.3,3.89],[2005.55,3.7],[2005.85,3.96],[2006.1,4.07],[2006.35,3.89],[2006.6,3.62],[2006.85,3.44],[2007.1,3.27],[2007.35,3.17],[2007.5,2.83],[2007.65,2.38],[2007.8,1.94],[2008.0,1.32],[2008.15,1.16],[2008.35,1.51]];

// panels: name, vertical shift (percentage points) applied when stacking
const panelNames  = ['20-yr','LTCorp','10-yr','75-month','5-yr','3-yr'];
const panelShift  = [23, 16, 14, 9.5, 4.5, -0.5];
const panelActual = [yr20Actual, corpActual, yr10Actual, m75Actual, yr5Actual, yr3Actual];
const panelModel  = [yr20Model, corpModel, yr10Model, m75Model, yr5Model, yr3Model];

// x-axis tick dates (as placed in the figure) and labels
const xTickDates  = [1953.25, 1960.0, 1970.0, 1976.083, 1980.0, 1990.0, 1990.55, 2000.0, 2008.42];
const xTickLabels = ['4/53','1/60','1/70','2/76','1/80','1/90','4/90','1/00','6/08'];

// 10-yr reference rates and the dates they are marked to
const refLabels = ['10yr: 8.86%','10yr: 8.56%','10yr: 7.64%'];
const refRates  = [8.86, 8.56, 7.64];
const refEnds   = [1976.083, 1990.55, 1976.083];
const trendFrom = [1976.083, 7.64];
const trendTo   = [1990.55, 8.56];

// ---- presentation ----
const FONT = '"Liberation Serif","Times New Roman",Times,serif';
const tickAlign = ['center','center','center','center','center','right','left','center','center'];
const tickShift = [0,0,0,0,2,3,0,0,0];
const refLabelDy = [1.5, 11.5, 6];
// label anchor (date, stacked level) per panel
const panelLabelAt = [[1994.08,30.88],[1994.23,24.9],[1999.14,19.4],[2002.05,13.73],[2006.1,7.86],[2005.25,4.52]];
const shift10 = panelShift[2];

const datasets = [];
panelActual.forEach((ser, i) => {
  datasets.push({
    data: ser.map(p => ({x: p[0], y: p[1] + panelShift[i]})),
    borderColor: '#141414', borderWidth: 1.4, pointRadius: 0, tension: 0, order: 2
  });
});
panelModel.forEach((ser, i) => {
  datasets.push({
    data: ser.map(p => ({x: p[0], y: p[1] + panelShift[i]})),
    borderColor: '#ff0000', borderWidth: 4, borderDash: [0, 6.5], borderCapStyle: 'round',
    pointRadius: 0, tension: 0, order: 1
  });
});
datasets.push({
  data: [{x: trendFrom[0], y: trendFrom[1] + shift10}, {x: trendTo[0], y: trendTo[1] + shift10}],
  borderColor: '#000', borderWidth: 1.3, borderDash: [8, 5], pointRadius: 0, order: 0
});

const marksPlugin = {
  id: 'marks',
  beforeDatasetsDraw(chart) {
    const {ctx, scales: {x, y}} = chart;
    ctx.save();
    ctx.strokeStyle = '#444';
    ctx.lineWidth = 1;
    ctx.setLineDash([1, 3]);
    refRates.forEach((r, i) => {
      const py = Math.round(y.getPixelForValue(r + shift10)) + 0.5;
      ctx.beginPath();
      ctx.moveTo(x.left - 12, py);
      ctx.lineTo(x.getPixelForValue(refEnds[i]), py);
      ctx.stroke();
    });
    [[1976.083, 8.86], [1990.55, 8.56]].forEach(([d, r]) => {
      const px = Math.round(x.getPixelForValue(d)) + 0.5;
      ctx.beginPath();
      ctx.moveTo(px, y.getPixelForValue(r + shift10));
      ctx.lineTo(px, y.bottom);
      ctx.stroke();
    });
    ctx.restore();
  },
  afterDraw(chart) {
    const {ctx, scales: {x, y}} = chart;
    ctx.save();
    ctx.strokeStyle = '#000'; ctx.lineWidth = 1.3;
    ctx.beginPath(); ctx.moveTo(x.left - 12, y.bottom); ctx.lineTo(x.left, y.bottom); ctx.stroke();
    ctx.fillStyle = '#000';
    ctx.font = '28px ' + FONT;
    ctx.textBaseline = 'alphabetic';
    xTickDates.forEach((d, i) => {
      const px = x.getPixelForValue(d);
      ctx.textAlign = tickAlign[i];
      ctx.fillText(xTickLabels[i], px + tickShift[i], y.bottom + 43);
    });
    ctx.font = '29px ' + FONT;
    ctx.textAlign = 'right';
    refRates.forEach((r, i) => {
      ctx.fillText(refLabels[i], x.left - 17, y.getPixelForValue(r + shift10) + refLabelDy[i]);
    });
    ctx.font = '28px ' + FONT;
    ctx.textAlign = 'left';
    ctx.textBaseline = 'middle';
    panelNames.forEach((n, i) => {
      ctx.fillText(n, x.getPixelForValue(panelLabelAt[i][0]), y.getPixelForValue(panelLabelAt[i][1]));
    });
    ctx.restore();
  }
};

new Chart(document.getElementById('c'), {
  type: 'line',
  data: {datasets},
  options: {
    responsive: false, animation: false, devicePixelRatio: 1,
    layout: {padding: {left: 160, right: 36, top: 12, bottom: 0}},
    plugins: {legend: {display: false}, tooltip: {enabled: false}},
    scales: {
      x: {
        type: 'linear', min: 1953.25, max: 2008.77,
        afterBuildTicks: s => { s.ticks = xTickDates.map(v => ({value: v})); },
        afterFit: s => { s.height = 51; },
        ticks: {display: false},
        grid: {drawOnChartArea: false, drawTicks: true, tickLength: 12, color: '#000', lineWidth: 1.2},
        border: {display: true, color: '#000', width: 1.3}
      },
      y: {
        type: 'linear', min: 0, max: 38,
        afterBuildTicks: s => { const t = []; for (let v = 0; v <= 38; v++) t.push({value: v}); s.ticks = t; },
        afterFit: s => { s.width = 12; },
        ticks: {display: false},
        grid: {drawOnChartArea: false, drawTicks: true, tickLength: 12, color: '#000', lineWidth: 1.2},
        border: {display: true, color: '#000', width: 1.3}
      }
    }
  },
  plugins: [marksPlugin]
});
</script></body></html>
